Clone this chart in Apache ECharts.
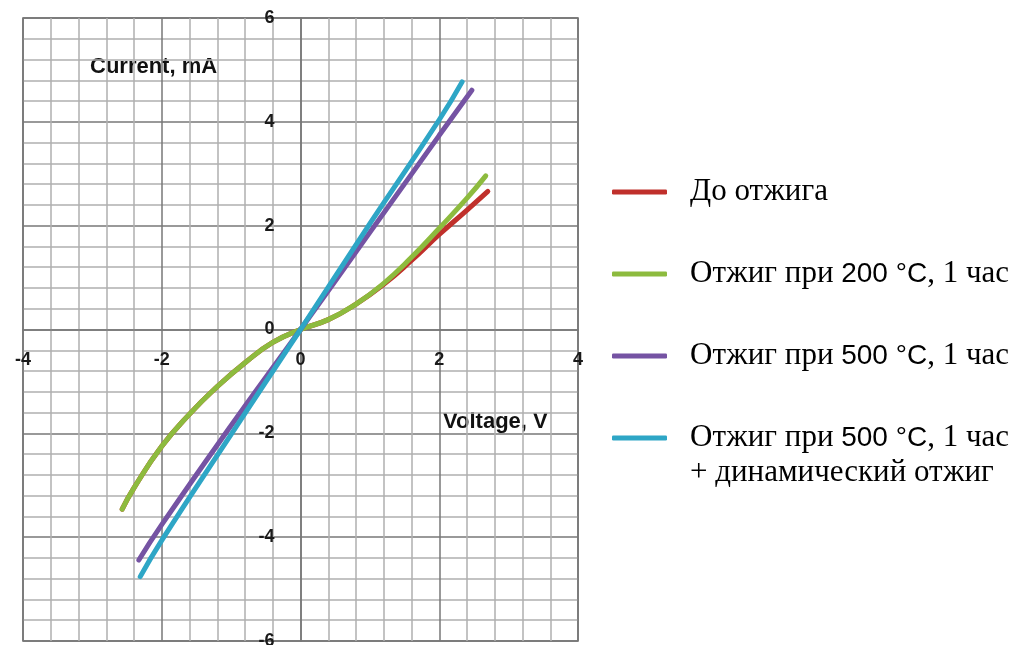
<!DOCTYPE html>
<html>
<head>
<meta charset="utf-8">
<script src="https://cdn.jsdelivr.net/npm/echarts@6/dist/echarts.min.js"></script>
<style>
    html, body { margin: 0; padding: 0; background: #fff; }
    #chart { width: 1019px; height: 645px; }
</style>
</head>
<body>
<div id="chart"></div>
<script>
// названия серий
const seriesNames = [
    'До отжига',
    'Отжиг при 200 °C, 1 час',
    'Отжиг при 500 °C, 1 час',
    'Отжиг при 500 °C, 1 час '
];
const colors = ['#c0302b', '#8dbb3e', '#7553a3', '#2ea6c6'];

// до отжига (красная)
const redV = [-2.57, -2.4, -2.0, -1.6, -1.2, -0.8, -0.4, 0, 0.4, 0.8, 1.2, 1.6, 2.0, 2.4, 2.7];
const redI = [-3.46, -3.05, -2.25, -1.63, -1.1, -0.64, -0.25, 0, 0.19, 0.49, 0.87, 1.33, 1.83, 2.3, 2.66];
// 200 °C (зелёная)
const greenV = [-2.57, -2.4, -2.0, -1.6, -1.2, -0.8, -0.4, 0, 0.4, 0.8, 1.2, 1.6, 2.0, 2.4, 2.67];
const greenI = [-3.46, -3.05, -2.25, -1.63, -1.1, -0.64, -0.25, 0, 0.19, 0.49, 0.89, 1.39, 1.95, 2.53, 2.96];
// 500 °C (фиолетовая)
const purpleV = [-2.33, -2.0, -1.0, 0, 1.0, 2.0, 2.47];
const purpleI = [-4.44, -3.76, -1.85, 0, 1.87, 3.74, 4.61];
// 500 °C + динамический отжиг (голубая)
const cyanV = [-2.31, -2.0, -1.0, 0, 1.0, 2.0, 2.33];
const cyanI = [-4.76, -4.06, -2.02, 0, 2.04, 4.04, 4.77];

const xTicks = { min: -4, max: 4, step: 2 };
const yTicks = { min: -6, max: 6, step: 2 };

function pairs(xs, ys) {
    return xs.map((x, i) => [x, ys[i]]);
}

const chart = echarts.init(document.getElementById('chart'));

const axisLabelStyle = {
    color: '#1a1a1a',
    fontFamily: 'Liberation Sans',
    fontWeight: 'bold',
    fontSize: 18
};

// размеры сетки, оси переносим в ноль через offset
const gridBox = { left: 23, right: 441, top: 18, bottom: 4 };
const plotW = 1019 - gridBox.left - gridBox.right;
const plotH = 645 - gridBox.top - gridBox.bottom;

const option = {
    backgroundColor: '#fff',
    animation: false,
    grid: Object.assign({
        outerBoundsMode: 'none',
        containLabel: false,
        show: true,
        borderColor: '#666',
        borderWidth: 1.5
    }, gridBox),
    xAxis: {
        type: 'value',
        position: 'bottom',
        offset: -plotH * (0 - yTicks.min) / (yTicks.max - yTicks.min),
        min: xTicks.min,
        max: xTicks.max,
        interval: xTicks.step,
        axisLine: { onZero: false, lineStyle: { color: '#777', width: 1.5 } },
        axisTick: { show: false },
        axisLabel: Object.assign({ margin: 22, showMinLabel: true, showMaxLabel: true }, axisLabelStyle),
        splitLine: { lineStyle: { color: '#777', width: 1.5 } },
        minorTick: { show: false, splitNumber: 5 },
        minorSplitLine: { show: true, lineStyle: { color: '#b0b0b0', width: 1.5 } }
    },
    yAxis: {
        type: 'value',
        position: 'left',
        offset: -plotW * (0 - xTicks.min) / (xTicks.max - xTicks.min),
        min: yTicks.min,
        max: yTicks.max,
        interval: yTicks.step,
        axisLine: { onZero: false, lineStyle: { color: '#777', width: 1.5 } },
        axisTick: { show: false },
        axisLabel: Object.assign({ margin: 26, showMinLabel: true, showMaxLabel: true }, axisLabelStyle),
        splitLine: { lineStyle: { color: '#777', width: 1.5 } },
        minorTick: { show: false, splitNumber: 5 },
        minorSplitLine: { show: true, lineStyle: { color: '#b0b0b0', width: 1.5 } }
    },
    legend: {
        orient: 'vertical',
        left: 612,
        top: 175,
        padding: 0,
        itemGap: 48,
        itemWidth: 55,
        itemHeight: 5,
        icon: 'roundRect',
        data: seriesNames,
        formatter: function(name) {
            return name.replace(/(\d+ °C)/, '{s|$1}');
        },
        textStyle: {
            color: '#000',
            fontFamily: 'Liberation Serif',
            fontSize: 31,
            lineHeight: 34,
            padding: [0, 0, 0, 18],
            rich: {
                s: {
                    fontFamily: 'Liberation Sans',
                    fontSize: 28,
                    lineHeight: 34,
                    color: '#000'
                }
            }
        }
    },
    graphic: [
        {
            type: 'text',
            left: 90,
            top: 56,
            style: {
                text: 'Current, mA',
                fill: '#111',
                font: 'bold 22px "Liberation Sans"'
            }
        },
        {
            type: 'text',
            left: 443,
            top: 411,
            style: {
                text: 'Voltage, V',
                fill: '#111',
                font: 'bold 22px "Liberation Sans"'
            }
        },
        {
            type: 'text',
            left: 690,
            top: 457,
            style: {
                text: '+ динамический отжиг',
                fill: '#000',
                font: '31px "Liberation Serif"'
            }
        }
    ],
    series: [
        [redV, redI],
        [greenV, greenI],
        [purpleV, purpleI],
        [cyanV, cyanI]
    ].map(function(d, i) {
        return {
            name: seriesNames[i],
            type: 'line',
            smooth: true,
            showSymbol: false,
            color: colors[i],
            lineStyle: { width: 5, color: colors[i], cap: 'round' },
            data: pairs(d[0], d[1])
        };
    })
};

chart.setOption(option);
</script>
</body>
</html>
